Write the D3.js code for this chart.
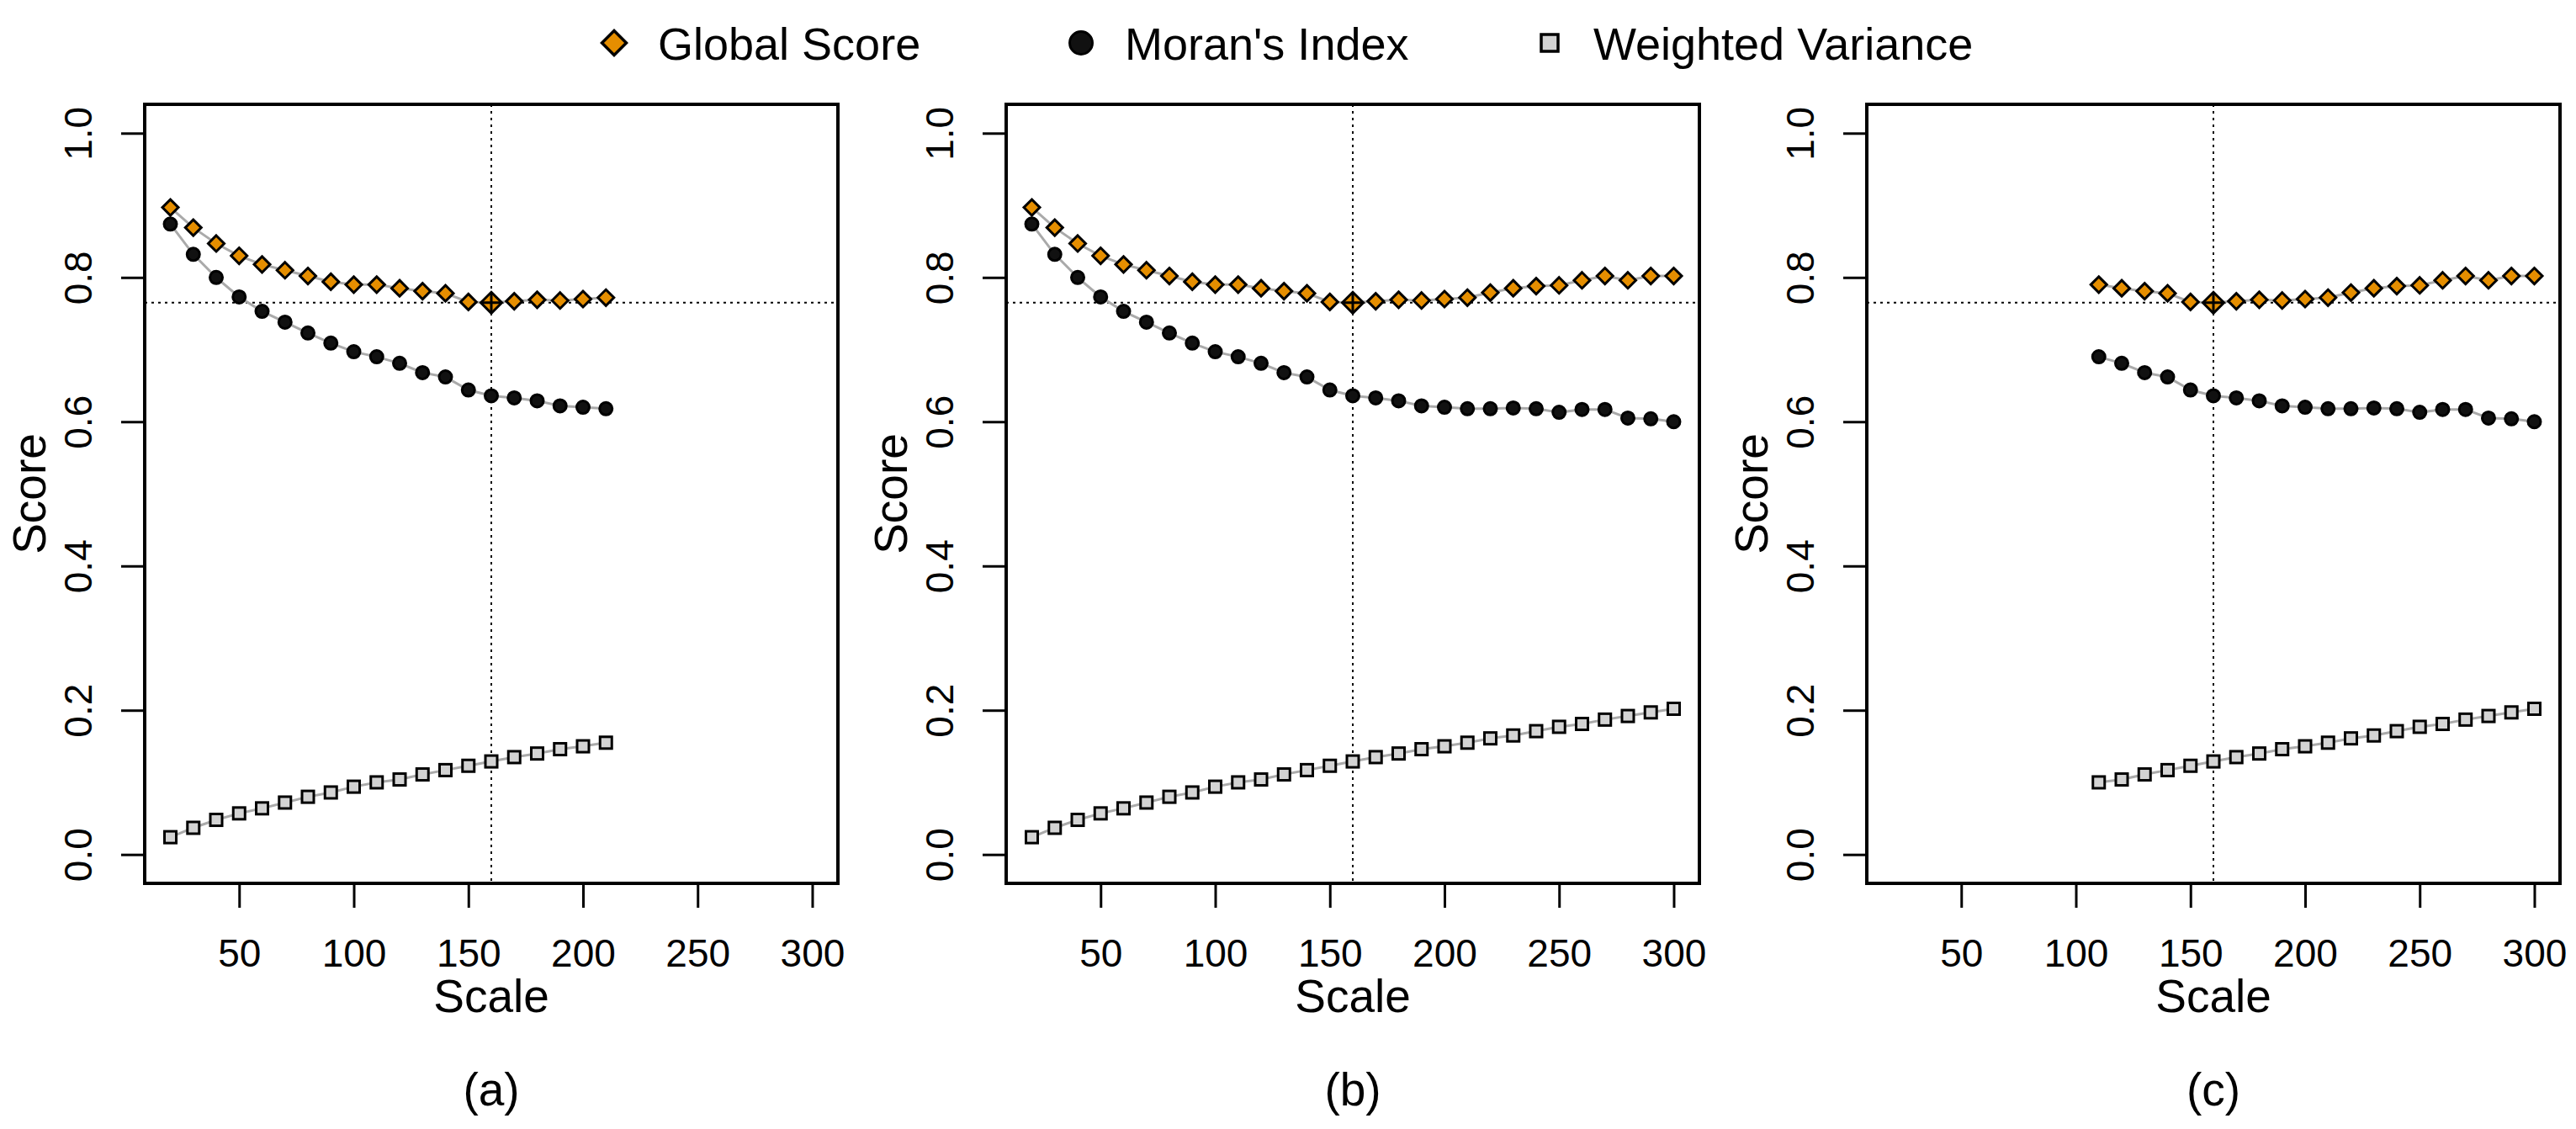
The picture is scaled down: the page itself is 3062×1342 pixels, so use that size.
<!DOCTYPE html>
<html>
<head>
<meta charset="utf-8">
<script src="https://cdn.jsdelivr.net/npm/d3@7"></script>
<style>
  body { margin: 0; background: #fff; }
  text { font-family: "Liberation Sans", Arial, sans-serif; fill: #000; }
</style>
</head>
<body>
<script>
var width = 3062;
var height = 1342;

// data
var scales = [20, 30, 40, 50, 60, 70, 80, 90, 100, 110, 120, 130, 140, 150, 160,
    170, 180, 190, 200, 210, 220, 230, 240, 250, 260, 270, 280, 290, 300];
var globalScore = [0.897, 0.869, 0.847, 0.830, 0.818, 0.810, 0.802, 0.794, 0.790, 0.790,
    0.785, 0.781, 0.778, 0.766, 0.765, 0.767, 0.769, 0.768, 0.770, 0.772,
    0.779, 0.785, 0.788, 0.789, 0.796, 0.802, 0.796, 0.802, 0.802];
var moransIndex = [0.874, 0.832, 0.800, 0.773, 0.753, 0.738, 0.723, 0.709, 0.697, 0.690,
    0.681, 0.668, 0.662, 0.644, 0.636, 0.633, 0.629, 0.622, 0.620, 0.618,
    0.618, 0.619, 0.618, 0.613, 0.617, 0.617, 0.605, 0.604, 0.600];
var weightedVariance = [0.024, 0.037, 0.048, 0.057, 0.064, 0.072, 0.080, 0.086, 0.094, 0.100,
    0.104, 0.111, 0.117, 0.123, 0.129, 0.135, 0.140, 0.146, 0.150, 0.155,
    0.161, 0.165, 0.171, 0.177, 0.181, 0.187, 0.192, 0.197, 0.202];

var panelNames = ["(a)", "(b)", "(c)"];
var panelFrom = [20, 20, 110];
var panelTo = [210, 300, 300];
var xTicks = [50, 100, 150, 200, 250, 300];
var yTicks = [0.0, 0.2, 0.4, 0.6, 0.8, 1.0];
var bestScale = 160;
var bestScore = 0.765;

var seriesNames = ["Global Score", "Moran's Index", "Weighted Variance"];

var orange = "#e58e00";
var lineGray = "#aaaaaa";

var svg = d3.select("body")
    .append("svg")
    .attr("width", width)
    .attr("height", height);

// plot box positions
var panelLeft = [172, 1196, 2219];
var boxW = 824;
var boxTop = 124;
var boxBottom = 1050;

var xScale = d3.scaleLinear().domain([8.8, 311.2]).range([0, boxW]);
var yScale = d3.scaleLinear().domain([-0.04, 1.04]).range([boxBottom - boxTop, 0]);

function diamond(r) {
    return "M0," + (-r) + "L" + r + ",0L0," + r + "L" + (-r) + ",0Z";
}

panelNames.forEach(function (name, p) {
    var g = svg.append("g")
        .attr("transform", "translate(" + panelLeft[p] + "," + boxTop + ")");

    var rows = scales.map(function (s, i) {
        return { s: s, g: globalScore[i], m: moransIndex[i], w: weightedVariance[i] };
    }).filter(function (d) { return d.s >= panelFrom[p] && d.s <= panelTo[p]; });

    // reference lines
    g.append("line")
        .attr("x1", xScale(bestScale)).attr("x2", xScale(bestScale))
        .attr("y1", 0).attr("y2", boxBottom - boxTop)
        .attr("stroke", "#000").attr("stroke-width", 2)
        .attr("stroke-dasharray", "3,5");
    g.append("line")
        .attr("x1", 0).attr("x2", boxW)
        .attr("y1", yScale(bestScore)).attr("y2", yScale(bestScore))
        .attr("stroke", "#000").attr("stroke-width", 2)
        .attr("stroke-dasharray", "3,5");

    // connecting lines
    ["g", "m", "w"].forEach(function (k) {
        g.append("path")
            .datum(rows)
            .attr("fill", "none")
            .attr("stroke", lineGray)
            .attr("stroke-width", 3)
            .attr("d", d3.line()
                .x(function (d) { return xScale(d.s); })
                .y(function (d) { return yScale(d[k]); }));
    });

    // weighted variance squares
    g.selectAll(".sq")
        .data(rows)
        .enter()
        .append("rect")
        .attr("x", function (d) { return xScale(d.s) - 7; })
        .attr("y", function (d) { return yScale(d.w) - 7; })
        .attr("width", 14).attr("height", 14)
        .attr("fill", "#d3d3d3").attr("stroke", "#000").attr("stroke-width", 3);

    // moran's index circles
    g.selectAll(".ci")
        .data(rows)
        .enter()
        .append("circle")
        .attr("cx", function (d) { return xScale(d.s); })
        .attr("cy", function (d) { return yScale(d.m); })
        .attr("r", 7.5)
        .attr("fill", "#111").attr("stroke", "#000").attr("stroke-width", 3);

    // global score diamonds
    g.selectAll(".di")
        .data(rows)
        .enter()
        .append("path")
        .attr("transform", function (d) { return "translate(" + xScale(d.s) + "," + yScale(d.g) + ")"; })
        .attr("d", diamond(9.5))
        .attr("fill", orange).attr("stroke", "#000").attr("stroke-width", 3)
        .attr("stroke-linejoin", "miter");

    // best scale marker
    var best = g.append("g")
        .attr("transform", "translate(" + xScale(bestScale) + "," + yScale(bestScore) + ")");
    best.append("path").attr("d", diamond(12.5))
        .attr("fill", orange).attr("stroke", "#000").attr("stroke-width", 3);
    best.append("path").attr("d", "M-12.5,0H12.5M0,-12.5V12.5")
        .attr("stroke", "#000").attr("stroke-width", 3);

    // axes
    var xAxis = g.append("g")
        .attr("transform", "translate(0," + (boxBottom - boxTop) + ")")
        .call(d3.axisBottom(xScale).tickValues(xTicks).tickSize(29).tickSizeOuter(0));
    xAxis.select(".domain").remove();
    xAxis.selectAll(".tick line").attr("stroke-width", 3);
    xAxis.selectAll(".tick text")
        .attr("y", 99).attr("dy", 0)
        .style("font-size", "46px")
        .style("font-family", "Liberation Sans, Arial, sans-serif")
        .attr("fill", "#000");

    var yAxis = g.append("g")
        .call(d3.axisLeft(yScale).tickValues(yTicks).tickSize(28).tickSizeOuter(0).tickFormat(d3.format(".1f")));
    yAxis.select(".domain").remove();
    yAxis.selectAll(".tick line").attr("stroke-width", 3);
    yAxis.selectAll(".tick text")
        .attr("x", 0).attr("y", 0).attr("dy", 0)
        .attr("text-anchor", "middle")
        .attr("transform", "translate(-63,0) rotate(-90)")
        .style("font-size", "46px")
        .style("font-family", "Liberation Sans, Arial, sans-serif")
        .attr("fill", "#000");

    // box
    g.append("rect")
        .attr("x", 0).attr("y", 0)
        .attr("width", boxW).attr("height", boxBottom - boxTop)
        .attr("fill", "none").attr("stroke", "#000").attr("stroke-width", 4);

    // labels
    g.append("text")
        .attr("x", boxW / 2).attr("y", 1203 - boxTop)
        .attr("text-anchor", "middle")
        .style("font-size", "55px")
        .text("Scale");
    g.append("text")
        .attr("transform", "translate(-118," + ((boxBottom - boxTop) / 2) + ") rotate(-90)")
        .attr("text-anchor", "middle")
        .style("font-size", "55px")
        .text("Score");
    g.append("text")
        .attr("x", boxW / 2).attr("y", 1314 - boxTop)
        .attr("text-anchor", "middle")
        .style("font-size", "55px")
        .text(name);
});

// legend
var legendX = [730, 1285, 1842];
var legend = svg.append("g");
seriesNames.forEach(function (n, i) {
    var item = legend.append("g").attr("transform", "translate(" + legendX[i] + ",51)");
    if (i === 0) {
        item.append("path").attr("d", diamond(14.5))
            .attr("fill", orange).attr("stroke", "#000").attr("stroke-width", 3.5);
    } else if (i === 1) {
        item.append("circle").attr("r", 13.5)
            .attr("fill", "#111").attr("stroke", "#000").attr("stroke-width", 3);
    } else {
        item.append("rect").attr("x", -10).attr("y", -10).attr("width", 20).attr("height", 20)
            .attr("fill", "#d3d3d3").attr("stroke", "#000").attr("stroke-width", 3.5);
    }
    item.append("text")
        .attr("x", 52).attr("y", 20)
        .style("font-size", "54px")
        .text(n);
});
</script>
</body>
</html>
